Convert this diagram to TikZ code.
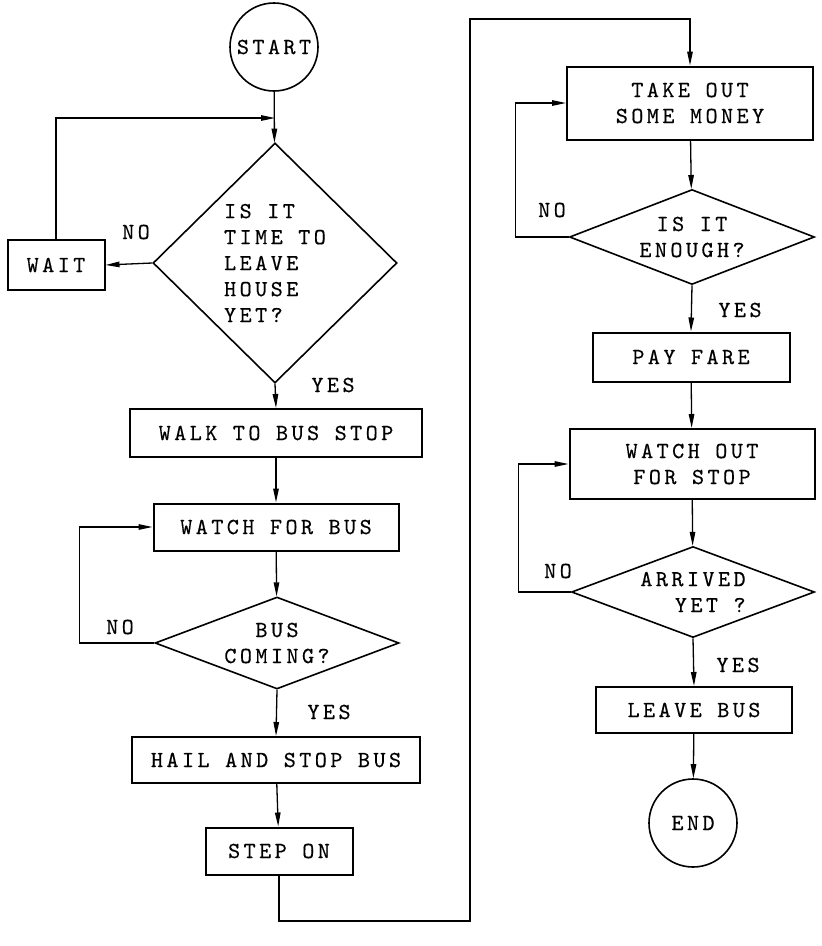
\documentclass[tikz,border=0pt]{standalone}
\usepackage{fontspec}
\usepackage{tikz}
\usetikzlibrary{arrows.meta}
\usetikzlibrary{shapes.geometric}
\newfontfamily\typeface{lmmono10-regular.otf}[LetterSpace=15, FakeBold=0.4]
\newcommand{\chartfont}{\typeface\fontsize{23}{26}\selectfont}
\tikzset{
    flowline/.style={
        line width=1.3pt,
        black,
        -{Triangle[length=14pt, width=5.5pt]}
    },
    % boxes of the chart
    stepbox/.style={
        draw,
        rectangle,
        line width=2pt,
        inner sep=0pt,
        align=center,
        font=\chartfont
    },
    askbox/.style={
        draw,
        diamond,
        line width=1.6pt,
        inner sep=0pt,
        align=center,
        font=\chartfont
    },
    endpoint/.style={
        draw,
        circle,
        line width=1.6pt,
        minimum size=88pt,
        inner sep=0pt,
        font=\chartfont
    },
    answer/.style={font=\chartfont}
}

\begin{document}
\begin{tikzpicture}[x=1pt,y=-1pt]
    \useasboundingbox (0,0) rectangle (822,946);
    % left column
    \node[endpoint] (start) at (274,47) {START};
    \node[askbox, minimum width=244pt, minimum height=240pt, align=left] (timeask) at (275,263) {IS IT\\TIME TO\\LEAVE\\HOUSE\\YET?};
    \node[stepbox, minimum width=97pt, minimum height=50pt] (wait) at (56,265) {WAIT};
    \node[stepbox, minimum width=292pt, minimum height=48pt] (walk) at (276,433) {WALK TO BUS STOP};
    \node[stepbox, minimum width=245pt, minimum height=47pt] (watchbus) at (276,527) {WATCH FOR BUS};
    \node[askbox, minimum width=244pt, minimum height=92pt, shape aspect=2.65] (buscoming) at (277,643) {BUS\\COMING?};
    \node[stepbox, minimum width=288pt, minimum height=46pt] (hail) at (276,760) {HAIL AND STOP BUS};
    \node[stepbox, minimum width=147pt, minimum height=47pt] (stepon) at (279,851) {STEP ON};
    % right column
    \node[stepbox, minimum width=246pt, minimum height=73pt] (money) at (690,103) {TAKE OUT\\SOME MONEY};
    \node[askbox, minimum width=245pt, minimum height=95pt, shape aspect=2.6] (enough) at (692,237) {IS IT\\ENOUGH?};
    \node[stepbox, minimum width=197pt, minimum height=49pt] (fare) at (691,357) {PAY FARE};
    \node[stepbox, minimum width=245pt, minimum height=70pt] (watchstop) at (692,464) {WATCH OUT\\FOR STOP};
    \node[askbox, minimum width=243pt, minimum height=91pt, shape aspect=2.65, align=right] (arrived) at (693,592) {ARRIVED\\YET ?};
    \node[stepbox, minimum width=196pt, minimum height=46pt] (leavebus) at (694,710) {LEAVE BUS};
    \node[endpoint] (finish) at (693,823) {END};

    \node[answer] (no1) at (136,232) {NO};
    \node[answer] (yes1) at (333,385) {YES};
    \node[answer] (no2) at (120,627) {NO};
    \node[answer] (yes2) at (329,712) {YES};
    \node[answer] (no3) at (552,210) {NO};
    \node[answer] (yes3) at (740,310) {YES};
    \node[answer] (no4) at (558,571) {NO};
    \node[answer] (yes4) at (738,665) {YES};

    \coordinate (backtop) at (275,118);
    \coordinate (lowturn) at (470,921);
    \coordinate (highturn) at (470,19);

    \draw[flowline] (start) -- (timeask);
    \draw[flowline] (timeask.west) -- (wait.east);
    \draw[flowline] (wait.north) |- (backtop);
    \draw[flowline] (timeask.south) -- (walk.north);
    \draw[flowline] (walk) -- (watchbus);
    \draw[flowline] (watchbus) -- (buscoming);
    \draw[flowline] (buscoming.west) -- ++(-75,0) |- (watchbus.west);
    \draw[flowline] (buscoming.south) -- (hail.north);
    \draw[flowline] (hail) -- (stepon);
    \draw[flowline] (stepon.south) |- (lowturn) -- (highturn) -| (money.north);
    \draw[flowline] (money) -- (enough);
    \draw[flowline] (enough.west) -- ++(-53,0) |- (money.west);
    \draw[flowline] (enough.south) -- (fare.north);
    \draw[flowline] (fare) -- (watchstop);
    \draw[flowline] (watchstop) -- (arrived);
    \draw[flowline] (arrived.west) -- ++(-52,0) |- (watchstop.west);
    \draw[flowline] (arrived.south) -- (leavebus.north);
    \draw[flowline] (leavebus) -- (finish);
\end{tikzpicture}
\end{document}
